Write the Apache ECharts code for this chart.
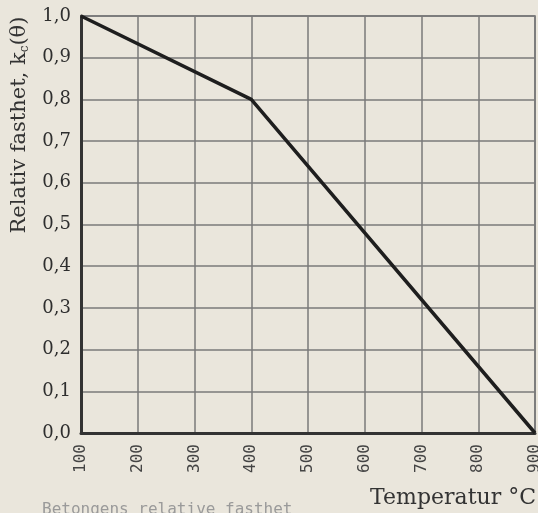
<!DOCTYPE html>
<html>
<head>
<meta charset="utf-8">
<script src="https://cdn.jsdelivr.net/npm/echarts@6/dist/echarts.min.js"></script>
<style>
html,body{margin:0;padding:0;background:#eae6dc;}
#chart{width:538px;height:513px;}
</style>
</head>
<body>
<div id="chart"></div>
<script>
const temperatures = [100, 400, 900];
const strength = [1.0, 0.8, 0.0];
const xTicks = [100, 200, 300, 400, 500, 600, 700, 800, 900];
const yTicks = [0, 0.1, 0.2, 0.3, 0.4, 0.5, 0.6, 0.7, 0.8, 0.9, 1.0];
const yName = 'Relativ fasthet, k';
const xName = 'Temperatur °C';
const caption = 'Betongens relative fasthet';

const chart = echarts.init(document.getElementById('chart'));
chart.setOption({
  backgroundColor: '#eae6dc',
  animation: false,
  grid: {left: 81, right: 3, top: 16, bottom: 80, show: true, borderColor: '#6a6a6a', borderWidth: 1.5,
    containLabel: false, outerBoundsMode: 'none'},
  xAxis: {
    type: 'value', min: xTicks[0], max: xTicks[xTicks.length-1], interval: 100,
    axisLine: {show: true, onZero: false, lineStyle: {color: '#333', width: 3}},
    axisTick: {show: false},
    splitLine: {show: true, lineStyle: {color: '#7a7a7a', width: 1.5}},
    axisLabel: {rotate: 90, margin: 11, fontFamily: 'DejaVu Sans Mono', fontSize: 16, color: '#444',
      formatter: v => String(v)}
  },
  yAxis: {
    type: 'value', min: yTicks[0], max: yTicks[yTicks.length-1], interval: 0.1,
    axisLine: {show: true, onZero: false, lineStyle: {color: '#333', width: 3}},
    axisTick: {show: false},
    splitLine: {show: true, lineStyle: {color: '#7a7a7a', width: 1.5}},
    axisLabel: {margin: 10, fontFamily: 'DejaVu Serif', fontSize: 18, color: '#2e2e2e',
      formatter: v => v.toFixed(1).replace('.', ',')}
  },
  series: [{
    type: 'line',
    data: temperatures.map((t, i) => [t, strength[i]]),
    symbol: 'none',
    lineStyle: {color: '#1e1e1e', width: 3.5},
    clip: false
  }],
  graphic: [
    {
      type: 'text', x: 20, y: 125, rotation: Math.PI / 2,
      style: {
        text: '{a|' + yName + '}{s|c}{a|(θ)}',
        align: 'center', verticalAlign: 'middle',
        rich: {
          a: {fontFamily: 'DejaVu Serif', fontSize: 21, fill: '#333', color: '#333'},
          s: {fontFamily: 'DejaVu Serif', fontSize: 12, fill: '#333', color: '#333', verticalAlign: 'bottom', padding: [9, 0, 0, 0]}
        }
      }
    },
    {
      type: 'text', right: 2, top: 487,
      style: {text: xName, fontFamily: 'DejaVu Serif', fontSize: 22, fill: '#333'}
    },
    {
      type: 'text', left: 42, top: 502,
      style: {text: caption, fontFamily: 'DejaVu Sans Mono', fontSize: 16, fill: '#9a9a9a'}
    }
  ]
});
</script>
</body>
</html>
